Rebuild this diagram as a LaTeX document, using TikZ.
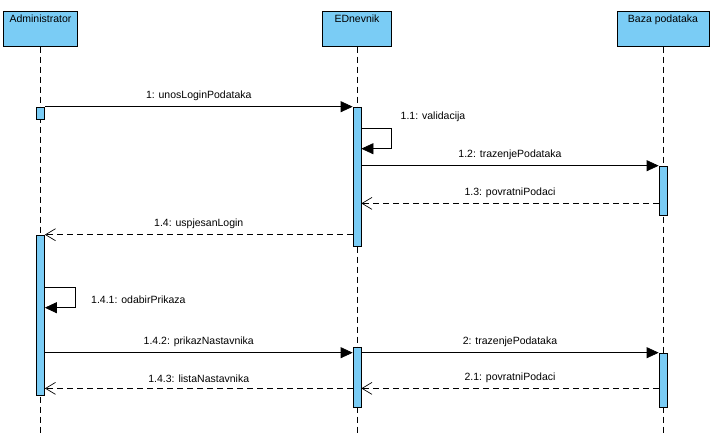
\documentclass[tikz,border=0pt]{standalone}
\usepackage{fontspec}
\setmainfont{Liberation Sans}
\usetikzlibrary{arrows.meta,positioning}
\definecolor{lifeblue}{RGB}{122,204,245}

\begin{document}
\begin{tikzpicture}[x=1pt, y=-1pt, line width=0.7pt,
  font=\fontsize{10.5}{12}\selectfont,
  head/.style = {shape=rectangle, draw, fill=lifeblue, anchor=north,
    minimum height=35pt, text height=8pt, text depth=21pt, inner ysep=3pt},
  act/.style = {shape=rectangle, draw, fill=lifeblue,
    minimum width=8pt, inner sep=0pt},
  life/.style = {dash pattern=on 6pt off 4pt},
  call/.style = {-{Triangle[length=12pt,width=11pt]}},
  reply/.style = {dash pattern=on 6pt off 4pt,
    -{Straight Barb[length=10pt,width=12pt]}},
  msg/.style = {above=4.5pt, inner sep=1pt}]
  \useasboundingbox (0,0) rectangle (718,436);

  % lifelines
  \node[head, minimum width=74pt] (admin) at (40.5,11) {Administrator};
  \node[head, minimum width=69pt] (edn) at (357,11) {EDnevnik};
  \node[head, minimum width=92pt] (baza) at (663,11) {Baza podataka};
  \coordinate (bottom) at (0,436);
  \draw[life] (admin.south) -- (admin.south |- bottom);
  \draw[life] (edn.south) -- (edn.south |- bottom);
  \draw[life] (baza.south) -- (baza.south |- bottom);

  % activations
  \node[act, minimum height=12pt, below=60pt of admin] (a1) {};
  \node[act, minimum height=139pt, below=60pt of edn] (e1) {};
  \node[act, minimum height=49pt, below=119pt of baza] (b1) {};
  \node[act, minimum height=160pt, below=188pt of admin] (a2) {};
  \node[act, minimum height=60pt, below=300pt of edn] (e2) {};
  \node[act, minimum height=54pt, below=306pt of baza] (b2) {};

  % messages
  \draw[call] (a1.north east) -- (e1.north west)
    node[msg, midway] (m1) {1: unosLoginPodataka};
  \draw[call] ([yshift=-22pt]e1.north east) -- ++(30,0)
    |- ([yshift=-42pt]e1.north east);
  \node[anchor=west] (m11) at ([xshift=40pt,yshift=-10pt]e1.north) {1.1: validacija};
  \draw[call] (b1.north west -| e1.east) -- (b1.north west)
    node[msg, midway] (m12) {1.2: trazenjePodataka};
  \coordinate (r13) at ([yshift=12pt]b1.south west);
  \draw[reply] (r13) -- (r13 -| e1.east)
    node[msg, midway] (m13) {1.3: povratniPodaci};
  \draw[reply] (a2.north east -| e1.west) -- (a2.north east)
    node[msg, midway] (m14) {1.4: uspjesanLogin};
  \draw[call] ([yshift=-53pt]a2.north east) -- ++(30,0)
    |- ([yshift=-73pt]a2.north east);
  \node[anchor=west] (m141) at ([xshift=47pt,yshift=-65pt]a2.north) {1.4.1: odabirPrikaza};
  \coordinate (c142) at ([yshift=-6pt]e2.north west);
  \draw[call] (c142 -| a2.east) -- (c142)
    node[msg, midway] (m142) {1.4.2: prikazNastavnika};
  \draw[call] (b2.north west -| e2.east) -- (b2.north west)
    node[msg, midway] (m2) {2: trazenjePodataka};
  \coordinate (c143) at ([yshift=19pt]e2.south west);
  \draw[reply] (c143) -- (c143 -| a2.east)
    node[msg, midway] (m143) {1.4.3: listaNastavnika};
  \draw[reply] (c143 -| b2.west) -- (c143 -| e2.east)
    node[msg, midway] (m21) {2.1: povratniPodaci};
\end{tikzpicture}
\end{document}
